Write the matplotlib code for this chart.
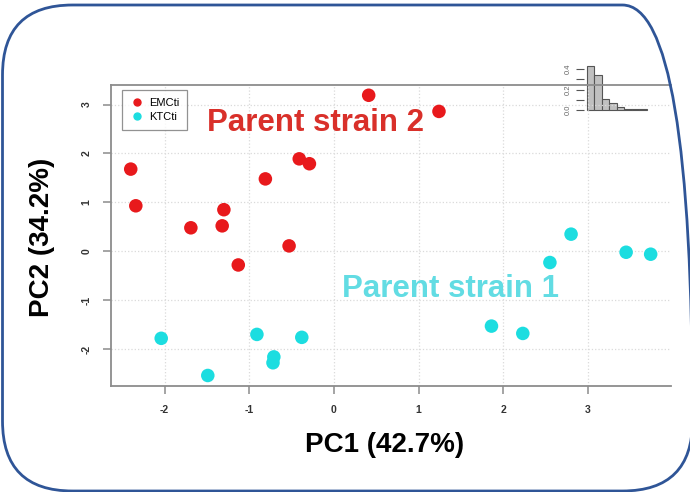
import matplotlib
matplotlib.use("Agg")
import matplotlib.pyplot as plt
from matplotlib.patches import FancyBboxPatch
from matplotlib.lines import Line2D
import numpy as np

plt.rcParams['font.family'] = ['Liberation Sans', 'DejaVu Sans']
plt.rcParams['axes.unicode_minus'] = False

# ---- data ----
emc_pc1 = [0.41, 1.24, -2.40, -2.34, -1.69, -1.32, -1.30, -0.81, -0.41, -0.29, -0.53, -1.13]
emc_pc2 = [3.19, 2.86, 1.68, 0.93, 0.48, 0.52, 0.85, 1.48, 1.89, 1.79, 0.11, -0.28]
ktc_pc1 = [-2.04, -1.49, -0.91, -0.71, -0.72, -0.38, 1.86, 2.23, 2.55, 2.80, 3.45, 3.74]
ktc_pc2 = [-1.78, -2.54, -1.70, -2.16, -2.28, -1.76, -1.53, -1.68, -0.23, 0.35, -0.02, -0.06]
var_expl = [0.427, 0.342, 0.105, 0.072, 0.030, 0.012, 0.007, 0.005]

xticks = [-2, -1, 0, 1, 2, 3]
yticks = [-2, -1, 0, 1, 2, 3]

red = '#E8191C'
cyan = '#1CDDE0'
frame = '#8C8C8C'

W, H = 690, 492
fig = plt.figure(figsize=(W / 100, H / 100), dpi=100)

def px(x0, y0, x1, y1):
    # pixel box (top-left origin) -> figure fraction
    return [x0 / W, 1 - y1 / H, (x1 - x0) / W, (y1 - y0) / H]

# ---- main PCA plot ----
ax = fig.add_axes(px(111, 85, 671, 386))
ax.set_zorder(2)
ax.patch.set_visible(False)
ax.set_xlim(-2.633, 3.98)
ax.set_ylim(-2.755, 3.40)
ax.set_xticks(xticks)
ax.set_yticks(yticks)
ax.grid(True, color='#DADADA', linestyle=':', linewidth=0.9)
ax.set_axisbelow(True)
ax.spines['right'].set_visible(False)
for s in ['left', 'top', 'bottom']:
    ax.spines[s].set_color(frame)
    ax.spines[s].set_linewidth(1.3)
ax.tick_params(direction='out', length=6, width=1.1, color=frame,
               labelsize=7.5, labelcolor='#333333', pad=8)
for lab in ax.get_yticklabels():
    lab.set_rotation(90)
    lab.set_va('center')
    lab.set_fontweight('bold')
for lab in ax.get_xticklabels():
    lab.set_fontweight('bold')

ax.scatter(emc_pc1, emc_pc2, s=95, color=red, edgecolors='none', zorder=3)
ax.scatter(ktc_pc1, ktc_pc2, s=95, color=cyan, edgecolors='none', zorder=3)

handles = [Line2D([], [], marker='o', linestyle='none', color=red, markersize=5),
           Line2D([], [], marker='o', linestyle='none', color=cyan, markersize=5)]
leg = ax.legend(handles, ['EMCti', 'KTCti'], loc='upper left',
                bbox_to_anchor=(0.019, 0.983), borderaxespad=0, fontsize=8,
                fancybox=False, handletextpad=0.4, handlelength=1.4,
                borderpad=0.7, labelspacing=0.35)
leg.get_frame().set_edgecolor('#777777')
leg.get_frame().set_linewidth(0.9)

ax.text(-0.22, 2.62, 'Parent strain 2', color='#D9302A', fontsize=22.5,
        fontweight='bold', ha='center', va='center')
ax.text(1.38, -0.77, 'Parent strain 1', color='#62DCE3', fontsize=22.5,
        fontweight='bold', ha='center', va='center')

fig.text(385 / W, 1 - 445 / H, 'PC1 (42.7%)', fontsize=20, fontweight='bold',
         ha='center', va='center')
fig.text(42 / W, 1 - 237 / H, 'PC2 (34.2%)', fontsize=20, fontweight='bold',
         ha='center', va='center', rotation=90)

# ---- inset: variance explained ----
ax2 = fig.add_axes(px(584, 60, 650, 112))
ax2.set_zorder(1)
ax2.bar(np.arange(len(var_expl)), var_expl, width=1.0, color='#C0C0C0',
        edgecolor='#555555', linewidth=0.8)
ax2.set_xlim(-0.86, 7.94)
ax2.set_ylim(-0.0195, 0.488)
for s in ax2.spines.values():
    s.set_visible(False)
ax2.set_xticks([])
ax2.set_yticks([0, 0.1, 0.2, 0.3, 0.4])
ax2.set_yticklabels(['0.0', '', '0.2', '', '0.4'])
ax2.tick_params(direction='out', length=5.5, width=0.8, color='#555555',
                labelsize=5.5, labelcolor='#666666', pad=3)
for lab in ax2.get_yticklabels():
    lab.set_rotation(90)
    lab.set_va('center')

# ---- rounded slide border ----
border = FancyBboxPatch((0.025, 0.01), 6.90, 4.86,
                        boxstyle='round,pad=0,rounding_size=0.7',
                        transform=fig.dpi_scale_trans, fill=False,
                        edgecolor='#2F5597', linewidth=2.0, zorder=10)
fig.patches.append(border)

fig.savefig('out.png', dpi=100)
